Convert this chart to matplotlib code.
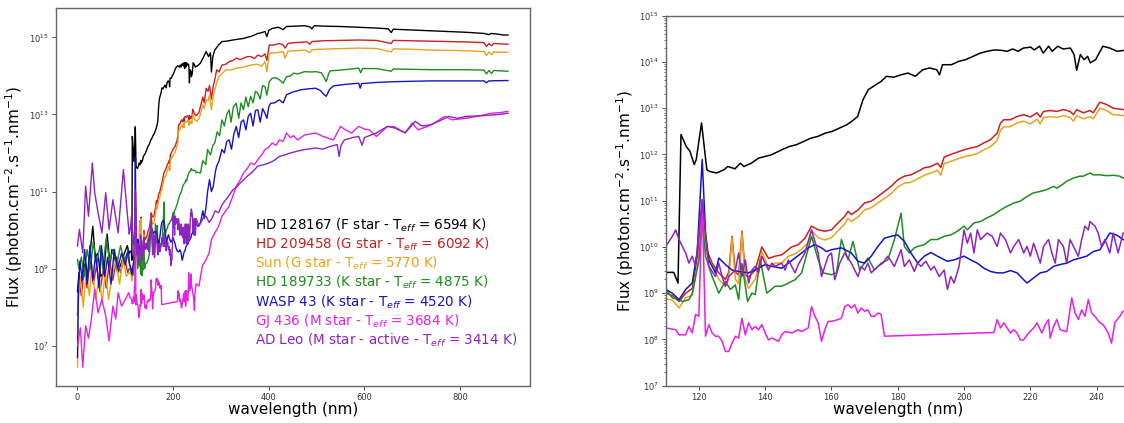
import matplotlib
matplotlib.use("Agg")
import numpy as np
import matplotlib.pyplot as plt
from matplotlib.ticker import FixedLocator, NullLocator, LogLocator, LogFormatterMathtext, NullFormatter

# log10 of the flux (photon/cm2/s/nm) as (wavelength nm, log10 flux)
# each star split into EUV (0-110 nm), UV (110-250 nm) and visible (250-900 nm)

hd128167_euv = [(0, 8.4), (3, 8.9), (7, 8.6), (12, 9.0), (17, 9.16), (22, 8.8), (27, 9.5), (32, 10.1),
                (37, 9.3), (43, 9.4), (48, 8.8), (55, 8.9), (62, 9.9), (68, 9.1), (72, 9.5), (77, 9.33),
                (84, 8.9), (92, 9.16), (98, 9.4), (104, 9.6), (108, 9.4)]
hd128167_uv = [(110, 9.45), (112.4, 9.45), (113.7, 9.22), (114.6, 12.43), (116.2, 12.17), (117.3, 12.07),
               (118.6, 11.78), (119.2, 11.89), (120.8, 12.68), (122.4, 11.67), (123.3, 11.63), (125.4, 11.6),
               (127.6, 11.67), (128.7, 11.74), (130.9, 11.69), (132.5, 11.81), (133.6, 11.74), (135.8, 11.81),
               (138, 11.92), (140.1, 11.96), (141.8, 11.99), (145, 12.1), (147.2, 12.17), (149.4, 12.21),
               (151.6, 12.28), (153.7, 12.35), (155.9, 12.39), (158.1, 12.46), (160.3, 12.5), (162.4, 12.57),
               (164.6, 12.64), (166.2, 12.72), (167.9, 12.82), (169.5, 13.18), (171.1, 13.4), (173.3, 13.5),
               (175, 13.58), (176.6, 13.69), (178.8, 13.67), (180.9, 13.72), (183.1, 13.76), (185.3, 13.69),
               (187.5, 13.83), (189.6, 13.87), (191.8, 13.83), (192.6, 13.72), (193.5, 13.94), (196.2, 13.94),
               (198.3, 14.01), (200.5, 14.05), (202.7, 14.12), (204.9, 14.19), (207, 14.23), (209.2, 14.26),
               (211.4, 14.25), (213, 14.23), (214.7, 14.28), (216.3, 14.23), (217.9, 14.3), (220.1, 14.32),
               (221.2, 14.26), (222.8, 14.34), (223.9, 14.19), (225.5, 14.34), (226.6, 14.23), (228.3, 14.34),
               (229.9, 14.28), (232.1, 14.3), (233.2, 14.16), (234, 13.82), (235.1, 14.16), (236.2, 14.05),
               (237.3, 14.12), (238.1, 13.98), (239.7, 14.05), (241.9, 14.34), (244, 14.3), (246.2, 14.23),
               (248.2, 14.25)]
hd128167_vis = [(250, 14.25), (257, 14.33), (262, 14.45), (269, 14.63), (274, 14.5), (278, 14.6), (280, 14.1),
                (283, 14.5), (287, 14.67), (295, 14.8), (302, 14.89), (312, 14.9), (325, 14.93), (335, 14.95),
                (347, 14.97), (355, 15.0), (362, 15.02), (370, 15.06), (377, 15.1), (385, 15.12), (392, 15.15),
                (396, 15.02), (400, 15.18), (407, 15.23), (420, 15.26), (430, 15.2), (437, 15.28), (455, 15.29),
                (475, 15.3), (486, 15.27), (490, 15.22), (495, 15.3), (513, 15.29), (550, 15.28), (588, 15.26),
                (625, 15.24), (650, 15.22), (656, 15.12), (660, 15.21), (700, 15.19), (738, 15.17), (775, 15.15),
                (813, 15.13), (850, 15.1), (860, 15.07), (865, 15.1), (880, 15.08), (890, 15.06), (900, 15.06)]

hd209458_euv = [(0, 7.8), (3, 8.7), (8, 8.3), (14, 9.0), (20, 8.5), (26, 9.2), (33, 8.6), (40, 9.1), (47, 8.4),
                (54, 9.0), (60, 8.5), (67, 9.2), (74, 8.7), (82, 9.3), (90, 8.9), (98, 9.3), (105, 8.9), (108, 9.0)]
hd209458_uv = [(110, 9.0), (112, 8.95), (114, 8.82), (116, 9.0), (118, 9.1), (120, 10.0), (121, 11.0), (122, 10.0),
               (124, 9.65), (126, 9.44), (128, 9.3), (129, 9.45), (130, 10.23), (131, 9.45), (132, 9.4), (133, 10.34),
               (134, 9.4), (135, 9.35), (137, 9.5), (139, 10.0), (141, 9.75), (143, 9.8), (145, 9.83), (148, 10.0),
               (150, 10.05), (152, 10.19), (154, 10.45), (156, 10.37), (158, 10.34), (160, 10.37), (162, 10.52),
               (164, 10.66), (165, 10.77), (166, 10.7), (168, 10.8), (170, 10.95), (172, 10.99), (174, 11.09),
               (176, 11.2), (178, 11.31), (180, 11.45), (182, 11.53), (184, 11.56), (186, 11.63), (188, 11.71),
               (190, 11.74), (192, 11.81), (193, 11.72), (194, 11.94), (196, 12.0), (198, 12.05), (200, 12.1),
               (202, 12.14), (204, 12.17), (206, 12.25), (208, 12.32), (210, 12.46), (211, 12.68), (212, 12.75),
               (214, 12.75), (216, 12.82), (218, 12.86), (220, 12.81), (222, 12.9), (223, 12.81), (224, 12.93),
               (226, 12.95), (228, 12.93), (230, 12.97), (232, 12.93), (233, 12.86), (234, 12.97), (236, 12.9),
               (238, 12.95), (239, 12.9), (241, 13.13), (243, 13.08), (245, 13.0), (247, 12.98), (248, 12.97)]
hd209458_vis = [(250, 12.99), (254, 13.05), (257, 13.2), (262, 13.45), (265, 13.3), (269, 13.68), (273, 13.6),
                (276, 13.75), (280, 13.4), (284, 13.75), (287, 13.9), (291, 14.16), (296, 14.1), (302, 14.28),
                (310, 14.3), (317, 14.37), (325, 14.4), (332, 14.46), (340, 14.42), (347, 14.46), (355, 14.5),
                (362, 14.5), (370, 14.45), (377, 14.54), (385, 14.5), (392, 14.57), (396, 14.4), (401, 14.8),
                (410, 14.8), (422, 14.84), (430, 14.8), (434, 14.72), (440, 14.84), (452, 14.86), (480, 14.88),
                (486, 14.82), (490, 14.89), (513, 14.91), (550, 14.92), (588, 14.93), (625, 14.92), (656, 14.84),
                (660, 14.92), (700, 14.91), (738, 14.9), (775, 14.89), (813, 14.88), (850, 14.86), (855, 14.76),
                (860, 14.84), (866, 14.78), (870, 14.84), (900, 14.82)]

sun_euv = [(0, 6.45), (2, 8.2), (6, 8.8), (12, 8.0), (18, 8.9), (25, 8.3), (30, 9.1), (38, 8.2), (45, 8.8),
           (52, 8.1), (58, 9.0), (65, 8.2), (72, 8.8), (80, 9.2), (88, 8.6), (95, 9.3), (102, 8.8), (108, 8.9)]
sun_uv = [(110, 8.88), (112, 8.85), (114, 8.68), (116, 8.9), (118, 8.95), (120, 9.8), (121, 10.8), (122, 9.9),
          (124, 9.6), (126, 9.3), (128, 9.15), (129, 9.3), (130, 10.2), (131, 9.3), (132, 9.2), (133, 10.3),
          (134, 9.3), (135, 9.1), (137, 9.3), (139, 9.9), (141, 9.55), (143, 9.65), (145, 9.65), (147, 9.8),
          (149, 9.85), (151, 9.95), (153, 10.1), (154, 10.35), (156, 10.2), (158, 10.15), (160, 10.2),
          (162, 10.35), (164, 10.5), (165, 10.62), (166, 10.55), (168, 10.65), (170, 10.8), (172, 10.85),
          (174, 10.95), (176, 11.05), (178, 11.15), (180, 11.3), (182, 11.38), (184, 11.4), (186, 11.47),
          (188, 11.55), (190, 11.6), (192, 11.66), (193, 11.55), (194, 11.8), (196, 11.85), (198, 11.9),
          (200, 11.95), (202, 11.98), (204, 12.02), (206, 12.1), (208, 12.17), (210, 12.3), (211, 12.52),
          (212, 12.6), (214, 12.6), (216, 12.68), (218, 12.72), (220, 12.66), (222, 12.76), (223, 12.66),
          (224, 12.8), (226, 12.82), (228, 12.8), (230, 12.84), (232, 12.8), (233, 12.72), (234, 12.84),
          (236, 12.77), (238, 12.82), (239, 12.77), (241, 13.0), (243, 12.95), (245, 12.86), (247, 12.85),
          (248, 12.84)]
sun_vis = [(250, 12.82), (254, 12.9), (257, 13.0), (262, 13.25), (265, 13.15), (269, 13.38), (273, 13.35),
           (276, 13.5), (280, 13.12), (284, 13.5), (287, 13.64), (295, 13.98), (302, 14.05), (310, 14.16),
           (320, 14.15), (332, 14.2), (345, 14.22), (362, 14.28), (377, 14.3), (385, 14.25), (392, 14.37),
           (396, 14.11), (401, 14.59), (415, 14.6), (430, 14.63), (434, 14.46), (440, 14.64), (475, 14.67),
           (486, 14.6), (490, 14.68), (530, 14.7), (588, 14.72), (625, 14.71), (656, 14.62), (660, 14.7),
           (700, 14.69), (738, 14.67), (775, 14.66), (813, 14.65), (850, 14.63), (855, 14.53), (860, 14.62),
           (866, 14.55), (870, 14.62), (900, 14.61)]

hd189733_euv = [(0, 9.24), (3, 9.0), (8, 9.3), (14, 8.8), (20, 9.5), (27, 9.0), (33, 9.7), (40, 9.1), (47, 9.6),
                (53, 9.0), (60, 9.8), (67, 9.2), (75, 9.5), (82, 9.1), (90, 9.6), (97, 9.2), (104, 9.4), (109, 9.1)]
hd189733_uv = [(110, 9.08), (112, 8.9), (114, 8.86), (115, 8.82), (117, 8.86), (118, 9.0), (120, 9.7), (121, 10.6),
               (122, 9.8), (124, 9.36), (126, 9.0), (128, 9.26), (129.5, 9.08), (131, 9.18), (132, 8.86),
               (133, 9.64), (134.7, 8.82), (136, 9.0), (137, 8.97), (138.5, 9.72), (140.5, 9.0), (143, 9.15),
               (145, 9.15), (147, 9.22), (149, 9.29), (151, 9.44), (154, 10.23), (156, 9.72), (157.5, 9.44),
               (160, 9.4), (161.5, 9.44), (163, 10.16), (165, 9.72), (166.5, 10.12), (168.5, 9.5), (171, 9.76),
               (173, 9.5), (175, 9.65), (177, 9.72), (179, 10.16), (181, 10.73), (182, 10.01), (183.5, 9.87),
               (185, 9.98), (186, 10.01), (188, 10.05), (190, 10.16), (192, 10.16), (194, 10.23), (196, 10.26),
               (198, 10.34), (200, 10.45), (201, 10.37), (203, 10.52), (205, 10.55), (207, 10.63), (209, 10.7),
               (211, 10.8), (213, 10.88), (215, 10.95), (217, 10.99), (219, 11.09), (221, 11.17), (223, 11.2),
               (225, 11.24), (227, 11.31), (228, 11.27), (229.5, 11.34), (231, 11.42), (233, 11.49), (235, 11.53),
               (236, 11.53), (238, 11.6), (239, 11.56), (241, 11.56), (243, 11.54), (245, 11.55), (247, 11.53),
               (248, 11.49)]
hd189733_vis = [(252, 11.5), (257, 11.48), (262, 11.8), (268, 11.7), (272, 12.09), (278, 11.95), (283, 12.2),
                (287, 12.26), (292, 12.55), (297, 12.45), (302, 12.86), (307, 12.7), (312, 13.0), (317, 13.12),
                (321, 12.8), (326, 13.2), (332, 13.29), (337, 12.9), (342, 13.3), (347, 13.12), (352, 13.45),
                (357, 13.2), (362, 13.47), (367, 13.3), (372, 13.6), (377, 13.55), (382, 13.4), (387, 13.75),
                (392, 13.72), (396, 13.5), (401, 13.85), (407, 13.94), (415, 13.95), (422, 13.9), (430, 13.81),
                (437, 13.98), (445, 14.0), (452, 14.07), (460, 14.05), (475, 14.11), (490, 14.1), (498, 14.11),
                (510, 14.08), (516, 13.95), (520, 13.85), (525, 14.05), (528, 14.13), (550, 14.15), (588, 14.2),
                (592, 14.08), (596, 14.19), (625, 14.19), (656, 14.12), (660, 14.18), (700, 14.17), (738, 14.16),
                (775, 14.16), (813, 14.16), (850, 14.15), (855, 14.05), (860, 14.14), (866, 14.06), (870, 14.14),
                (900, 14.12)]

wasp43_euv = [(0, 6.7), (2, 8.5), (5, 9.2), (10, 8.7), (15, 9.5), (20, 8.6), (26, 9.6), (32, 8.7), (38, 9.4),
              (45, 8.5), (50, 9.6), (57, 8.8), (63, 9.3), (70, 8.6), (77, 9.5), (84, 9.0), (92, 9.4), (100, 9.1),
              (106, 9.5), (109, 9.1)]
wasp43_uv = [(110, 9.08), (112, 9.0), (114, 8.86), (116, 9.08), (118, 9.22), (119.5, 9.9), (121, 11.89),
             (122, 10.3), (123, 9.72), (124, 9.58), (125, 9.44), (126, 9.76), (128, 9.62), (130, 9.5), (132, 9.47),
             (135, 9.44), (138, 9.54), (140, 9.62), (142, 9.58), (145, 9.54), (147, 9.65), (149, 9.76), (151, 9.87),
             (153, 9.98), (155, 10.05), (157, 9.98), (158.5, 9.9), (160, 9.94), (163, 9.98), (166, 9.87),
             (168, 9.69), (170, 9.65), (172, 9.8), (174, 10.01), (176, 10.19), (178, 10.23), (180, 10.26),
             (182, 10.12), (184, 9.87), (186, 9.65), (188, 9.8), (190, 9.88), (192, 9.8), (195, 9.69), (197, 9.72),
             (200, 9.8), (202, 9.72), (204, 9.65), (206, 9.54), (208, 9.47), (210, 9.44), (212, 9.44), (214, 9.49),
             (216, 9.44), (218, 9.29), (219, 9.22), (221, 9.33), (223, 9.44), (225, 9.47), (227, 9.58), (229, 9.62),
             (231, 9.65), (233, 9.72), (235, 9.76), (237, 9.8), (239, 9.9), (241, 9.94), (242.5, 10.12), (244, 10.3),
             (246, 10.26), (248, 10.16)]
wasp43_vis = [(252, 10.1), (257, 10.19), (262, 10.5), (265, 10.3), (269, 10.62), (272, 11.0), (276, 11.31),
              (280, 11.0), (284, 11.14), (288, 11.5), (291, 11.66), (296, 11.8), (302, 12.09), (307, 12.0),
              (312, 12.3), (317, 12.34), (322, 12.1), (327, 12.5), (332, 12.69), (337, 12.4), (342, 12.8),
              (347, 12.86), (352, 12.6), (357, 12.95), (362, 13.03), (367, 12.7), (372, 13.1), (377, 13.12),
              (382, 12.8), (387, 13.15), (392, 13.03), (396, 12.9), (400, 13.2), (404, 13.29), (412, 13.3),
              (422, 13.38), (430, 13.3), (437, 13.51), (450, 13.58), (467, 13.64), (480, 13.66), (498, 13.68),
              (508, 13.62), (515, 13.52), (520, 13.47), (527, 13.65), (535, 13.74), (560, 13.78), (588, 13.81),
              (591, 13.68), (594, 13.8), (625, 13.83), (663, 13.85), (700, 13.86), (738, 13.87), (775, 13.87),
              (813, 13.87), (850, 13.87), (855, 13.82), (860, 13.87), (900, 13.88)]

gj436_euv = [(0, 7.0), (6, 7.47), (11, 6.45), (17, 7.52), (23, 7.2), (29, 7.69), (36, 8.47), (43, 7.86), (51, 8.2),
             (59, 7.78), (66, 7.13), (74, 8.03), (80, 7.7), (85, 8.38), (92, 8.03), (100, 8.2), (107, 8.38)]
gj436_uv = [(110, 8.25), (113, 8.21), (114, 8.1), (116, 8.1), (117, 8.28), (118, 8.14), (119, 8.54), (120, 8.5),
            (121, 11.02), (122, 8.07), (123, 8.32), (124, 8.14), (125, 8.07), (126, 8.07), (127, 7.96), (128, 7.74),
            (129, 7.74), (130, 7.92), (131, 8.07), (132, 8.03), (133, 8.46), (134, 8.1), (135, 8.36), (136, 8.21),
            (137, 8.28), (138, 8.21), (139, 8.32), (140, 8.14), (141, 7.99), (142, 8.03), (144, 7.96), (145, 8.1),
            (146, 8.17), (148, 8.14), (150, 8.21), (151, 8.17), (153, 8.25), (154, 8.71), (155, 8.5), (156, 8.36),
            (157, 7.96), (158, 8.21), (159, 8.39), (160, 8.39), (162, 8.43), (163, 8.46), (164, 8.71), (165, 8.75),
            (166, 8.68), (167, 8.75), (168, 8.57), (169, 8.68), (170, 8.61), (171, 8.64), (172, 8.5), (173, 8.5),
            (174, 8.57), (175, 8.54), (176, 8.07), (209, 8.15), (210, 8.43), (211, 8.25), (212, 8.36), (213, 8.25),
            (214, 8.14), (215, 8.21), (216, 8.14), (217, 7.99), (218, 7.99), (219.5, 8.14), (221, 8.25), (222, 8.36),
            (223.5, 8.14), (224.5, 8.32), (225.5, 8.43), (226, 8.03), (227, 8.28), (228, 8.43), (229, 8.21),
            (231, 8.17), (232.5, 8.9), (233.5, 8.57), (234.5, 8.43), (235.5, 8.64), (236.5, 8.5), (237.5, 8.86),
            (238.5, 8.57), (239.5, 8.5), (241, 8.36), (242, 8.32), (243.5, 8.14), (244.5, 7.92), (245.5, 8.36),
            (247, 8.5), (248, 8.61)]
gj436_vis = [(254, 8.55), (261, 9.07), (269, 9.24), (275, 9.4), (280, 9.76), (287, 9.93), (295, 10.1),
             (302, 10.36), (310, 10.5), (317, 10.62), (325, 10.9), (332, 11.14), (340, 11.3), (347, 11.48),
             (355, 11.6), (362, 11.74), (370, 11.7), (377, 11.83), (385, 11.95), (392, 12.09), (400, 12.15),
             (407, 12.26), (415, 12.2), (422, 12.34), (430, 12.3), (437, 12.52), (445, 12.4), (452, 12.45),
             (460, 12.34), (475, 12.47), (490, 12.5), (498, 12.52), (513, 12.43), (525, 12.38), (535, 12.34),
             (550, 12.69), (560, 12.6), (573, 12.52), (588, 12.69), (600, 12.62), (610, 12.6), (625, 12.43),
             (648, 12.69), (663, 12.68), (685, 12.52), (700, 12.78), (712, 12.6), (738, 12.72), (768, 12.95),
             (783, 12.86), (813, 12.9), (835, 12.95), (865, 13.03), (885, 13.05), (900, 13.08)]

adleo_euv = [(0, 9.59), (4, 10.02), (11, 9.41), (17, 11.14), (23, 10.36), (31, 11.74), (36, 10.97), (43, 10.45),
             (51, 9.93), (59, 10.97), (66, 10.02), (74, 10.79), (85, 9.93), (96, 11.57), (104, 10.45), (108, 9.9)]
adleo_uv = [(110, 10.01), (112, 10.23), (113, 10.37), (114, 10.16), (116, 9.87), (117, 9.65), (118, 9.8),
            (119, 9.58), (121, 11.02), (123, 9.58), (125, 9.36), (126, 9.65), (127, 9.36), (128, 9.15), (129, 9.36),
            (131, 9.5), (132, 9.87), (133, 9.36), (134, 9.72), (135, 9.22), (136, 9.5), (137, 9.58), (138, 9.44),
            (139, 9.8), (141, 9.5), (142, 9.65), (143, 9.58), (145, 9.65), (146, 9.5), (147, 9.72), (149, 9.44),
            (150, 9.62), (152, 9.87), (154, 10.37), (156, 9.87), (157, 9.36), (159, 9.8), (160, 9.87), (161, 9.29),
            (162.5, 9.65), (164, 9.87), (166, 9.65), (168, 9.36), (169, 9.58), (170, 9.5), (171, 9.65), (172, 9.44),
            (174, 9.58), (175.5, 9.65), (177, 9.8), (179, 9.58), (181, 9.94), (182, 9.58), (183.5, 9.72),
            (185, 9.47), (186, 9.65), (187, 9.58), (188.5, 9.69), (190, 9.5), (191, 9.58), (192.5, 9.36), (194, 9.5),
            (195, 9.08), (196, 9.36), (197, 9.22), (198.5, 9.58), (200, 10.37), (201, 10.08), (202, 10.3),
            (203, 9.87), (204, 10.37), (205, 10.16), (207, 10.3), (208.5, 10.23), (210, 10.01), (211, 10.3),
            (212.5, 10.16), (214, 9.87), (215, 10.01), (216.5, 10.16), (218, 9.87), (219, 10.01), (220, 9.8),
            (221, 10.08), (222, 9.87), (223, 9.65), (224, 10.01), (225.5, 10.16), (226.5, 9.87), (227.5, 9.65),
            (228.5, 10.16), (230, 10.01), (231, 9.65), (232, 10.16), (233.5, 9.94), (234.5, 9.8), (235.5, 10.16),
            (236.5, 10.45), (237.5, 10.37), (238, 10.55), (239.5, 10.45), (240.5, 10.3), (241.5, 10.01),
            (242.5, 10.16), (244, 9.87), (245, 10.3), (246.5, 9.87), (248, 10.3)]
adleo_vis = [(254, 10.1), (262, 10.3), (269, 10.36), (275, 10.2), (280, 10.28), (288, 10.5), (295, 10.45),
             (302, 10.65), (310, 10.79), (317, 10.9), (325, 11.05), (332, 11.1), (340, 11.22), (347, 11.3),
             (355, 11.4), (365, 11.5), (377, 11.66), (390, 11.7), (400, 11.74), (410, 11.8), (422, 11.91),
             (433, 11.95), (445, 12.0), (460, 12.05), (475, 12.09), (498, 12.13), (513, 12.1), (528, 12.17),
             (543, 12.22), (547, 11.91), (551, 12.2), (558, 12.34), (575, 12.4), (588, 12.43), (595, 12.2),
             (600, 12.4), (625, 12.52), (648, 12.69), (663, 12.65), (685, 12.52), (706, 12.82), (720, 12.7),
             (738, 12.73), (760, 12.85), (776, 12.95), (795, 12.9), (813, 12.95), (851, 12.97), (880, 13.0),
             (900, 13.03)]

labels = ["HD 128167 (F star - T$_{eff}$ = 6594 K)",
          "HD 209458 (G star - T$_{eff}$ = 6092 K)",
          "Sun (G star - T$_{eff}$ = 5770 K)",
          "HD 189733 (K star - T$_{eff}$ = 4875 K)",
          "WASP 43 (K star - T$_{eff}$ = 4520 K)",
          "GJ 436 (M star - T$_{eff}$ = 3684 K)",
          "AD Leo (M star - active - T$_{eff}$ = 3414 K)"]
colors = ["black", "#cc1f1f", "#e8a21c", "#1e8c1e", "#1414c4", "#e620e6", "#8e24c0"]

stars = [hd128167_euv + hd128167_uv + hd128167_vis,
         hd209458_euv + hd209458_uv + hd209458_vis,
         sun_euv + sun_uv + sun_vis,
         hd189733_euv + hd189733_uv + hd189733_vis,
         wasp43_euv + wasp43_uv + wasp43_vis,
         gj436_euv + gj436_uv + gj436_vis,
         adleo_euv + adleo_uv + adleo_vis]

ylab = "Flux (photon.cm$^{-2}$.s$^{-1}$.nm$^{-1}$)"

fig = plt.figure(figsize=(11.24, 4.23), dpi=100)
ax1 = fig.add_axes([0.0498, 0.0875, 0.4217, 0.8936])
ax2 = fig.add_axes([0.5923, 0.0882, 0.4128, 0.8747])

for pts, c in zip(stars, colors):
    wl, lf = zip(*pts)
    flux = 10 ** np.array(lf)
    ax1.plot(wl, flux, color=c, lw=1.0)
    ax2.plot(wl, flux, color=c, lw=1.1)

# left panel
ax1.set_yscale("log")
ax1.set_xlim(-45, 946)
ax1.set_ylim(10 ** 5.96, 10 ** 15.76)
ax1.yaxis.set_major_locator(FixedLocator([1e7, 1e9, 1e11, 1e13, 1e15]))
ax1.yaxis.set_major_formatter(LogFormatterMathtext())
ax1.yaxis.set_minor_locator(NullLocator())
ax1.set_xticks([0, 200, 400, 600, 800])
ax1.tick_params(labelsize=6, length=3, width=0.6, pad=2, colors="#333333")
ax1.set_xlabel("wavelength (nm)", fontsize=11, labelpad=0)
ax1.set_ylabel(ylab, fontsize=11, labelpad=3)

for i, (lab, c) in enumerate(zip(labels, colors)):
    ax1.text(0.42, 0.426 - i * 0.051, lab, color=c, fontsize=9.75, va="center", transform=ax1.transAxes)

# right panel (zoom on the UV)
ax2.set_yscale("log")
ax2.set_xlim(110, 250)
ax2.set_ylim(1e7, 1e15)
ax2.yaxis.set_major_locator(LogLocator(base=10, numticks=20))
ax2.yaxis.set_minor_locator(LogLocator(base=10, subs=np.arange(2, 10), numticks=20))
ax2.yaxis.set_major_formatter(LogFormatterMathtext())
ax2.yaxis.set_minor_formatter(NullFormatter())
ax2.set_xticks([120, 140, 160, 180, 200, 220, 240])
ax2.tick_params(labelsize=6, length=3, width=0.6, pad=2, colors="#333333")
ax2.tick_params(which="minor", length=1.5, width=0.4)
ax2.set_xlabel("wavelength (nm)", fontsize=11, labelpad=0)
ax2.set_ylabel(ylab, fontsize=11, labelpad=2)

for ax in (ax1, ax2):
    for s in ax.spines.values():
        s.set_color("#666666")
        s.set_linewidth(1.0)

fig.savefig("out.png", dpi=100)
